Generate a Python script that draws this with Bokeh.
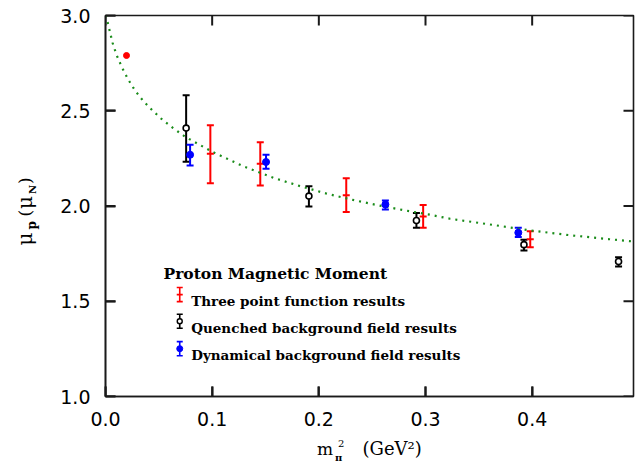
import math
from bokeh.plotting import figure
from bokeh.layouts import row, column
from bokeh.models import (ColumnDataSource, Range1d, FixedTicker,
                          Whisker, TeeHead, Label, PrintfTickFormatter)
from bokeh.core.properties import value
from bokeh.embed import file_html
from bokeh.resources import INLINE

# ---------------- data ----------------
# Three point function results (red)
three_x = [0.0983, 0.1451, 0.2257, 0.2978, 0.3982]
three_y = [2.274, 2.222, 2.056, 1.945, 1.826]
three_lo = [2.120, 2.108, 1.968, 1.886, 1.783]
three_hi = [2.424, 2.335, 2.146, 2.005, 1.868]

# Quenched background field results (black, open)
quen_x = [0.0756, 0.1907, 0.2915, 0.3923, 0.4810]
quen_y = [2.409, 2.052, 1.924, 1.797, 1.709]
quen_lo = [2.232, 1.998, 1.886, 1.767, 1.683]
quen_hi = [2.582, 2.104, 1.963, 1.823, 1.731]

# Dynamical background field results (blue, filled)
dyn_x = [0.0793, 0.1505, 0.2624, 0.3870]
dyn_y = [2.269, 2.231, 2.008, 1.860]
dyn_lo = [2.213, 2.196, 1.981, 1.837]
dyn_hi = [2.322, 2.269, 2.029, 1.886]

# Physical point (red dot)
phys_x = [0.0197]
phys_y = [2.790]

# Fit curve (green dotted)
fit_x = [0.0, 0.0022, 0.0066, 0.0103, 0.0153, 0.0213, 0.0278, 0.0356, 0.0443,
         0.0537, 0.0634, 0.0733, 0.0787, 0.100, 0.1289, 0.1585, 0.1826, 0.2066,
         0.2310, 0.2553, 0.2797, 0.3043, 0.3230, 0.3605, 0.3979, 0.4347,
         0.4719, 0.4944]
fit_y = [3.0, 2.960, 2.857, 2.794, 2.729, 2.664, 2.605, 2.550, 2.500,
         2.451, 2.409, 2.369, 2.351, 2.285, 2.209, 2.146, 2.104, 2.066,
         2.033, 2.004, 1.978, 1.954, 1.933, 1.903, 1.872, 1.847,
         1.826, 1.814]

x_ticks = [0.0, 0.1, 0.2, 0.3, 0.4]
y_ticks = [1.0, 1.5, 2.0, 2.5, 3.0]

legend_title = "Proton Magnetic Moment"
legend_labels = ["Three point function results",
                 "Quenched background field results",
                 "Dynamical background field results"]

# ---------------- styling / layout ----------------
RED = "#ff0000"
BLUE = "#0000ff"
BLACK = "#000000"
GREEN = "#1a8c1a"
AXIS = "#1a1a1a"

X0, X1, Y0, Y1 = 0.0, 0.495, 1.0, 3.0
YW = 40            # width of the strip holding the y-axis label
MAIN_W = 637 - YW  # main figure width
MAIN_H = 434       # main figure height
XH = 464 - MAIN_H  # height of the strip holding the x-axis label
FL, FR, FT, FB = 105, 633, 15, 396   # frame edges on the page
TICK = 10          # inward tick length in pixels

p = figure(width=MAIN_W, height=MAIN_H, output_backend="svg",
           toolbar_location=None,
           x_range=Range1d(X0, X1), y_range=Range1d(Y0, Y1),
           min_border_left=FL - YW, min_border_right=637 - FR,
           min_border_top=FT, min_border_bottom=MAIN_H - FB,
           background_fill_color="white", border_fill_color="white")
p.grid.visible = False
p.outline_line_color = AXIS
p.outline_line_width = 1.6

for ax in (p.xaxis[0], p.yaxis[0]):
    ax.major_tick_in = TICK
    ax.major_tick_out = 0
    ax.minor_tick_in = 0
    ax.minor_tick_out = 0
    ax.axis_line_color = AXIS
    ax.axis_line_width = 1.6
    ax.major_tick_line_color = AXIS
    ax.major_tick_line_width = 2
    ax.major_label_text_font = "DejaVu Sans"
    ax.major_label_text_font_size = "19px"
    ax.major_label_text_color = "black"
    ax.formatter = PrintfTickFormatter(format="%.1f")

p.xaxis[0].ticker = FixedTicker(ticks=x_ticks)
p.yaxis[0].ticker = FixedTicker(ticks=y_ticks)
p.xaxis[0].major_label_standoff = 15
p.yaxis[0].major_label_standoff = 15

# inward tick marks on all four edges, drawn as head-less whiskers
dx = TICK * (X1 - X0) / (FR - FL)
dy = TICK * (Y1 - Y0) / (FB - FT)
nx, ny = len(x_ticks), len(y_ticks)
tick_top = ColumnDataSource(dict(b=x_ticks, lo=[Y1 - dy] * nx, hi=[Y1] * nx))
tick_bot = ColumnDataSource(dict(b=x_ticks, lo=[Y0] * nx, hi=[Y0 + dy] * nx))
tick_rgt = ColumnDataSource(dict(b=y_ticks, lo=[X1 - dx] * ny, hi=[X1] * ny))
tick_lft = ColumnDataSource(dict(b=y_ticks, lo=[X0] * ny, hi=[X0 + dx] * ny))
for src, dim in ((tick_top, "height"), (tick_bot, "height"),
                 (tick_rgt, "width"), (tick_lft, "width")):
    p.add_layout(Whisker(source=src, base="b", lower="lo", upper="hi",
                         dimension=dim, line_color=AXIS, line_width=2,
                         upper_head=None, lower_head=None))

# fit curve
p.line(fit_x, fit_y, line_color=GREEN, line_width=2.2, line_dash="2 5")

def whisker(src, color, w=2, head=7):
    p.add_layout(Whisker(source=src, base="x", lower="lo", upper="hi",
                         line_color=color, line_width=w,
                         upper_head=TeeHead(size=head, line_color=color, line_width=w),
                         lower_head=TeeHead(size=head, line_color=color, line_width=w)))

# three point (red)
src_t = ColumnDataSource(dict(x=three_x, y=three_y, lo=three_lo, hi=three_hi))
whisker(src_t, RED)
p.scatter("x", "y", source=src_t, marker="dash", size=7, line_color=RED,
          line_width=2)

# physical point
p.scatter(phys_x, phys_y, marker="circle", size=6, fill_color=RED,
          line_color=RED)

# quenched (black open)
src_q = ColumnDataSource(dict(x=quen_x, y=quen_y, lo=quen_lo, hi=quen_hi))
whisker(src_q, BLACK)
p.scatter("x", "y", source=src_q, marker="circle", size=6, fill_color="white",
          line_color=BLACK, line_width=1.6)

# dynamical (blue filled)
src_d = ColumnDataSource(dict(x=dyn_x, y=dyn_y, lo=dyn_lo, hi=dyn_hi))
whisker(src_d, BLUE)
p.scatter("x", "y", source=src_d, marker="circle", size=7, fill_color=BLUE,
          line_color=BLUE)

# ---------------- legend (manual) ----------------
LEG_X = 0.0696
LEG_Y = [1.535, 1.395, 1.251]
LEG_E = 0.037
for yy, col in zip(LEG_Y, [RED, BLACK, BLUE]):
    s = ColumnDataSource(dict(x=[LEG_X], y=[yy], lo=[yy - LEG_E], hi=[yy + LEG_E]))
    whisker(s, col, w=1.6, head=6)
p.scatter([LEG_X], [LEG_Y[0]], marker="dash", size=6, line_color=RED, line_width=1.6)
p.scatter([LEG_X], [LEG_Y[1]], marker="circle", size=5, fill_color="white",
          line_color=BLACK, line_width=1.4)
p.scatter([LEG_X], [LEG_Y[2]], marker="circle", size=6, fill_color=BLUE,
          line_color=BLUE)

def lab(text, cx, cy, size, style="normal"):
    p.add_layout(Label(x=cx - FL, y=FB - cy, x_units="screen", y_units="screen",
                       text=text, text_font="DejaVu Serif",
                       text_font_size=f"{size}px", text_font_style=style,
                       text_color="black", text_align="left",
                       text_baseline="alphabetic"))

lab(legend_title, 163, 272.7, 15.5, style="bold")
for t, by in zip(legend_labels, [300.0, 327.0, 354.0]):
    lab(t, 190.7, by, 13.5, style="bold")

# ---------------- axis-label strips ----------------
def strip(w, h, xr):
    f = figure(width=w, height=h, output_backend="svg", toolbar_location=None,
               x_range=xr, y_range=Range1d(h, 0),
               x_axis_location=None, y_axis_location=None,
               min_border=0, min_border_left=0, min_border_right=0,
               min_border_top=0, min_border_bottom=0,
               background_fill_color="white", border_fill_color="white")
    f.grid.visible = False
    f.outline_line_color = None
    return f

def txt(f, s, x, y, size, style="normal", angle=0.0):
    f.text(x=[x], y=[y], text=[s], text_font=value("DejaVu Serif"),
           text_font_size=f"{size}px", text_font_style=style,
           text_color="black", text_align="left",
           text_baseline="alphabetic", angle=angle)

# y label: mu_p (mu_N), rotated (page coords == strip coords)
fy = strip(YW, 464, Range1d(0, YW))
A = math.pi / 2
txt(fy, "\u03bc", 24, 245, 20, angle=A)
txt(fy, "p", 31.5, 229, 12, style="bold", angle=A)
txt(fy, "(", 24, 216, 17, angle=A)
txt(fy, "\u03bc", 24, 208.5, 20, angle=A)
txt(fy, "N", 32, 193.5, 10, style="bold", angle=A)
txt(fy, ")", 24, 183.5, 17, angle=A)

# x label: m_pi^2 (GeV^2); the strip's frame lines up with the main frame,
# so its x range is given in page pixels over the frame span.
fx = strip(MAIN_W, XH, Range1d(FL, FR))
txt(fx, "m", 316.5, 448 - MAIN_H, 17)
txt(fx, "\u03c0", 334.5, 456.5 - MAIN_H, 10, style="bold")
txt(fx, "2", 337.5, 443 - MAIN_H, 10)
txt(fx, "(GeV\u00b2)", 362, 448 - MAIN_H, 18)

layout = row(fy, column(p, fx, spacing=0), spacing=0)
open("out.html", "w").write(file_html(layout, INLINE))
